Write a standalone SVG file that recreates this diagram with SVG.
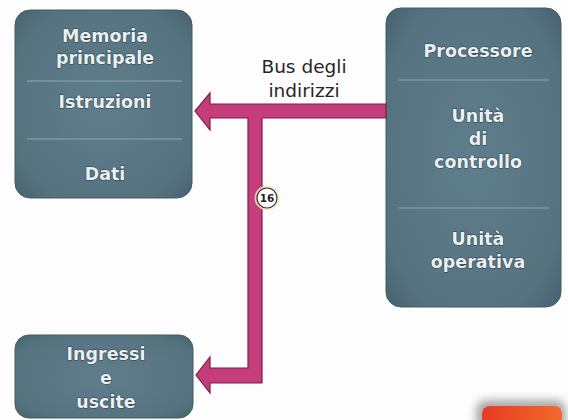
<svg xmlns="http://www.w3.org/2000/svg" width="568" height="420" viewBox="0 0 568 420">
<defs>
<radialGradient id="boxg" cx="50%" cy="50%" r="70%">
<stop offset="0" stop-color="#5f7e8c"/>
<stop offset="0.8" stop-color="#55727f"/>
<stop offset="1" stop-color="#48626f"/>
</radialGradient>
<linearGradient id="redg" x1="0" y1="0" x2="1" y2="0">
<stop offset="0" stop-color="#e83a26"/>
<stop offset="1" stop-color="#f26a2a"/>
</linearGradient>
<filter id="blur" x="-20%" y="-50%" width="140%" height="200%">
<feGaussianBlur stdDeviation="4"/>
</filter>
</defs>
<style>
.box{fill:url(#boxg);stroke:#435c69;stroke-width:1}
.sep{stroke:#7e98a4;stroke-width:1.5;fill:none}
.nt{font-family:"DejaVu Sans",sans-serif;font-weight:bold;font-size:17.5px;fill:#e9f0f2;text-anchor:middle;stroke:#2c3e47;stroke-width:1.1;paint-order:stroke;stroke-linejoin:round}
.bus{fill:#c63d7b;stroke:#7e1d48;stroke-width:1.2;stroke-linejoin:miter}
.lbl{font-family:"DejaVu Sans",sans-serif;font-size:18.5px;fill:#262626;text-anchor:middle}
.bd{font-family:"DejaVu Sans",sans-serif;font-weight:bold;font-size:10.5px;fill:#222;text-anchor:middle}
</style>
<rect width="568" height="420" fill="#fdfdfd"/>

<g id="memoria">
<rect class="box" x="15" y="10" width="177" height="188" rx="15"/>
<line class="sep" x1="27" y1="81" x2="182" y2="81"/>
<line class="sep" x1="27" y1="139" x2="182" y2="139"/>
<text class="nt" x="105" y="42">Memoria</text>
<text class="nt" x="105" y="64">principale</text>
<text class="nt" x="105" y="108">Istruzioni</text>
<text class="nt" x="105" y="180">Dati</text>
</g>

<g id="processore">
<rect class="box" x="386" y="8" width="175" height="299" rx="15"/>
<line class="sep" x1="398" y1="80" x2="549" y2="80"/>
<line class="sep" x1="398" y1="208" x2="549" y2="208"/>
<text class="nt" x="478" y="57">Processore</text>
<text class="nt" x="478" y="122">Unità</text>
<text class="nt" x="478" y="145">di</text>
<text class="nt" x="478" y="168">controllo</text>
<text class="nt" x="478" y="245">Unità</text>
<text class="nt" x="478" y="268">operativa</text>
</g>

<g id="ingressi">
<rect class="box" x="15" y="335" width="178" height="83" rx="14"/>
<text class="nt" x="106" y="360">Ingressi</text>
<text class="nt" x="106" y="384">e</text>
<text class="nt" x="106" y="408">uscite</text>
</g>

<g id="connectors">
<path class="bus" d="M386,104 L210,104 L210,93 L195,111 L210,130 L210,118 L248,118 L248,368 L210,368 L210,357 L196,375 L210,393 L210,383 L262,383 L262,118 L386,118 Z"/>
<text class="lbl" x="304" y="73">Bus degli</text>
<text class="lbl" x="304" y="97">indirizzi</text>
<g id="badge">
<circle cx="267" cy="198" r="12.5" fill="#f4e8bc" opacity="0.8"/>
<circle cx="267" cy="198" r="10" fill="#ffffff" stroke="#333" stroke-width="1.2"/>
<text class="bd" x="267" y="202">16</text>
</g>
</g>

<g id="corner">
<rect x="476" y="400" width="90" height="30" rx="10" fill="#707070" opacity="0.6" filter="url(#blur)"/>
<rect x="482" y="406" width="80" height="20" rx="8" fill="url(#redg)"/>
</g>
</svg>
